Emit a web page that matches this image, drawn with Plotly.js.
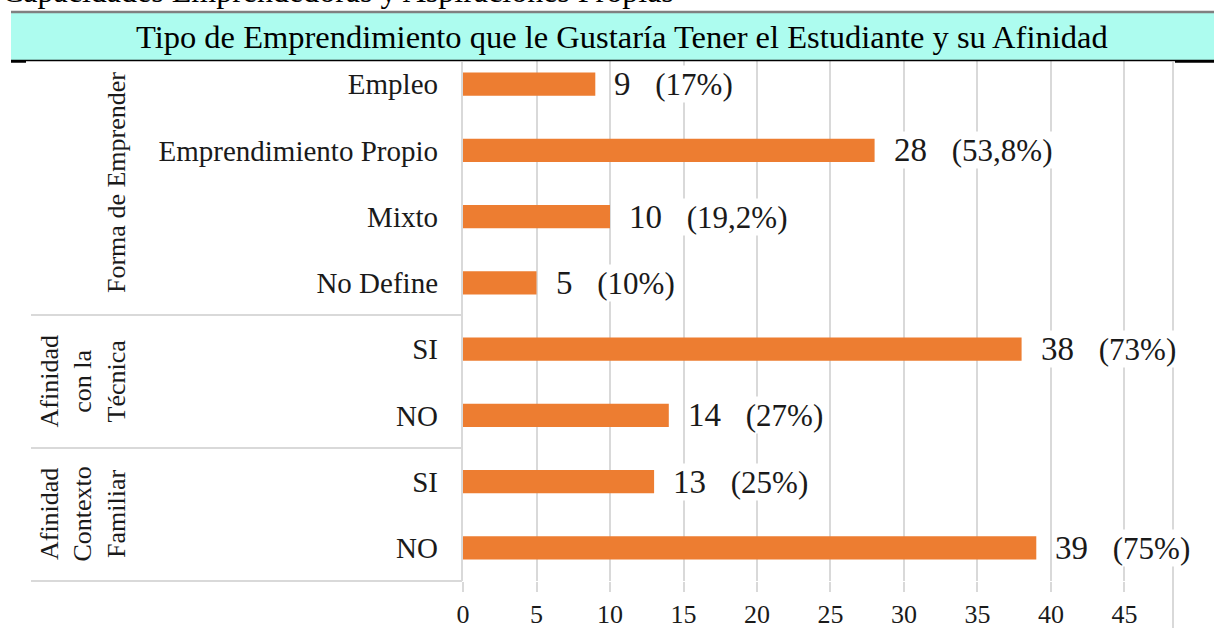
<!DOCTYPE html>
<html>
<head>
<meta charset="utf-8">
<script src="https://cdn.plot.ly/plotly-3.0.1.min.js"></script>
<style>html,body{margin:0;padding:0;background:#fff;}#chart{width:1214px;height:628px;}</style>
</head>
<body>
<div id="chart"></div>
<script>
// ---- data ----
const pageHeading = "Capacidades Emprendedoras y Aspiraciones Propias";
const chartTitle = "Tipo de Emprendimiento que le Gustaría Tener el Estudiante y su Afinidad";
const categories = ["Empleo", "Emprendimiento Propio", "Mixto", "No Define", "SI", "NO", "SI", "NO"];
const groupOf = [0, 0, 0, 0, 1, 1, 2, 2];
const groupLabels = ["Forma de Emprender", "Afinidad<br>con la<br>Técnica", "Afinidad<br>Contexto<br>Familiar"];
const values = [9, 28, 10, 5, 38, 14, 13, 39];
const percents = ["17%", "53,8%", "19,2%", "10%", "73%", "27%", "25%", "75%"];
const xTicks = [0, 5, 10, 15, 20, 25, 30, 35, 40, 45];

// ---- layout helpers (pixel -> paper) ----
const W = 1214, H = 628;
const L = 463, R = 1173, T = 51, B = 581;
const px = X => (X - L) / (R - L);
const py = Y => (B - Y) / (B - T);
const FONT = "Liberation Serif, Times New Roman, serif";

const ids = categories.map((c, i) => groupOf[i] + "|" + i + "|" + c);

const trace = {
  type: "bar",
  orientation: "h",
  x: values,
  y: ids,
  width: 0.35,
  marker: {color: "#ed7d31"},
  hoverinfo: "skip",
  showlegend: false
};

const annotations = [];
// value labels
values.forEach((v, i) => {
  annotations.push({
    x: v, y: ids[i], xref: "x", yref: "y",
    xanchor: "left", yanchor: "middle", xshift: 18,
    showarrow: false, bgcolor: "#ffffff", borderpad: 0,
    text: "<span style='font-size:33px'>" + v + "\u00a0\u00a0\u00a0</span>(" + percents[i] + ")",
    font: {family: FONT, size: 31, color: "#1a1a1a"}
  });
});
// group labels
const groupBounds = [[51, 315], [315, 448], [448, 581]];
const groupX = [117, 83, 83];
groupLabels.forEach((g, k) => {
  annotations.push({
    xref: "paper", yref: "paper",
    x: px(groupX[k]), y: py((groupBounds[k][0] + groupBounds[k][1]) / 2),
    xanchor: "center", yanchor: "middle",
    showarrow: false, textangle: -90,
    text: g,
    font: {family: FONT, size: 26, color: "#1a1a1a"}
  });
});
// title in band
annotations.push({
  xref: "paper", yref: "paper", x: px(622), y: py(37),
  xanchor: "center", yanchor: "middle", showarrow: false,
  text: chartTitle, font: {family: FONT, size: 32.5, color: "#000"}
});
// heading cut at top
annotations.push({
  xref: "paper", yref: "paper", x: px(0), y: py(-9),
  xanchor: "left", yanchor: "middle", showarrow: false,
  text: pageHeading, font: {family: FONT, size: 32, color: "#000"}
});

const gridC = "#d9d9d9";
const shapes = [
  // teal band
  {type: "rect", xref: "paper", yref: "paper", x0: px(11), x1: px(1214), y0: py(13), y1: py(60),
   fillcolor: "#adfcef", line: {width: 0}, layer: "above"},
  // grey top rule
  {type: "line", xref: "paper", yref: "paper", x0: px(11), x1: px(1214), y0: py(12), y1: py(12),
   line: {color: "#808080", width: 2.5}, layer: "above"},
  // black rule
  {type: "line", xref: "paper", yref: "paper", x0: px(11), x1: px(1214), y0: py(60.5), y1: py(60.5),
   line: {color: "#000", width: 1.5}, layer: "above"},
  {type: "line", xref: "paper", yref: "paper", x0: px(11), x1: px(26), y0: py(61.5), y1: py(61.5),
   line: {color: "#000", width: 2.5}, layer: "above"},
  {type: "line", xref: "paper", yref: "paper", x0: px(1175), x1: px(1214), y0: py(61.5), y1: py(61.5),
   line: {color: "#000", width: 2.5}, layer: "above"},
  // right border
  {type: "line", xref: "paper", yref: "paper", x0: 1, x1: 1, y0: py(62), y1: py(628),
   line: {color: gridC, width: 2}, layer: "below"},
  // left axis line
  {type: "line", xref: "paper", yref: "paper", x0: px(462), x1: px(462), y0: py(62), y1: py(581),
   line: {color: gridC, width: 2}, layer: "above"},
];
[315, 448, 581].forEach(Y => shapes.push({
  type: "line", xref: "paper", yref: "paper", x0: px(31), x1: px(462), y0: py(Y), y1: py(Y),
  line: {color: gridC, width: 2}, layer: "above"
}));

const layout = {
  width: W, height: H,
  margin: {l: L, r: W - R, t: T, b: H - B, pad: 0},
  paper_bgcolor: "#fff", plot_bgcolor: "#fff",
  showlegend: false,
  xaxis: {
    range: [0, 48.3], tickvals: xTicks, showgrid: true, gridcolor: gridC, gridwidth: 2,
    zeroline: false, showline: false, ticks: "outside", ticklen: 10, tickwidth: 2, tickcolor: gridC,
    tickfont: {family: FONT, size: 26, color: "#1a1a1a"}, fixedrange: true
  },
  yaxis: {
    type: "category", autorange: "reversed", tickvals: ids, ticktext: categories,
    showgrid: false, zeroline: false, showline: false, ticks: "", ticklabelstandoff: 24,
    tickfont: {family: FONT, size: 29, color: "#1a1a1a"}, fixedrange: true
  },
  annotations: annotations,
  shapes: shapes
};

Plotly.newPlot("chart", [trace], layout, {displayModeBar: false, staticPlot: true});
</script>
</body>
</html>
